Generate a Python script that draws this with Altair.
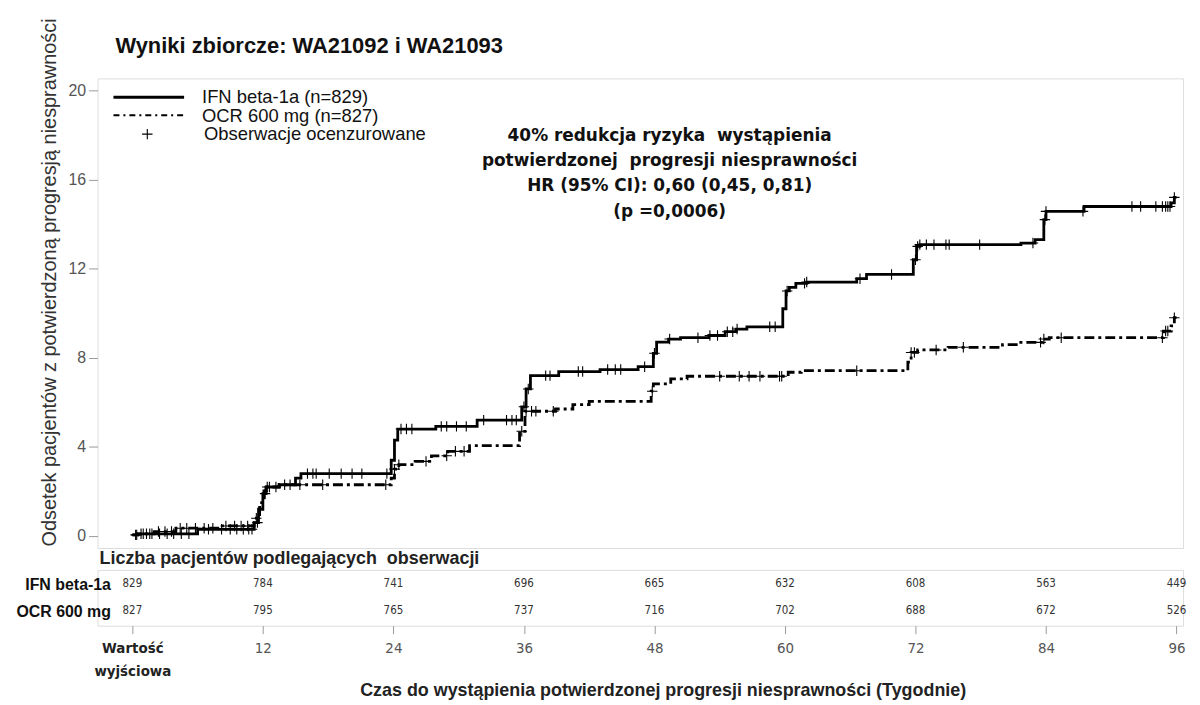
import altair as alt
import numpy as np
import pandas as pd

# ---------------- data ----------------
groups = ["IFN beta-1a", "OCR 600 mg"]

ifn_t = [0, 0.5, 6.0, 11.2, 11.6, 12.0, 12.3, 13.5, 15.0, 15.5, 23.8, 24.1, 24.4,
         27.9, 31.7, 35.8, 36.2, 36.6, 39.2, 43.0, 46.5, 47.9, 48.2, 49.3, 50.4,
         53.0, 54.5, 55.5, 56.5, 59.8, 60.1, 60.4, 61.0, 62.0, 66.6, 67.5, 71.8,
         72.1, 72.4, 81.7, 83.0, 83.8, 84.0, 87.5, 95.5, 95.8, 96.0]
ifn_v = [0.05, 0.1, 0.3, 0.6, 1.2, 1.9, 2.2, 2.3, 2.6, 2.8, 3.4, 4.3, 4.8,
         4.92, 5.2, 5.8, 6.6, 7.2, 7.38, 7.47, 7.6, 8.2, 8.7, 8.84, 8.9,
         9.0, 9.17, 9.29, 9.39, 10.2, 11.0, 11.16, 11.34, 11.4, 11.55, 11.74, 12.4,
         13.0, 13.08, 13.15, 13.3, 14.2, 14.57, 14.79, 14.95, 15.2, 15.2]

ocr_t = [0, 0.5, 2.0, 4.0, 8.0, 11.2, 11.7, 12.1, 13.5, 23.8, 24.1, 24.5, 26.0,
         27.5, 29.0, 31.0, 35.6, 36.1, 38.9, 40.5, 42.0, 47.7, 47.9, 49.5, 51.0,
         60.3, 61.5, 71.3, 71.6, 72.2, 75.0, 80.0, 81.5, 83.7, 84.3, 94.8, 95.5,
         95.8, 96.0]
ocr_v = [0.05, 0.1, 0.2, 0.35, 0.45, 0.8, 1.5, 2.2, 2.3, 2.6, 3.0, 3.2, 3.35,
         3.6, 3.8, 4.06, 4.7, 5.6, 5.7, 5.9, 6.04, 6.5, 6.83, 7.05, 7.17,
         7.35, 7.42, 7.8, 8.24, 8.35, 8.47, 8.59, 8.69, 8.84, 8.9, 9.2, 9.43,
         9.8, 9.8]

ifn_cens = [0.3, 0.8, 1.3, 1.8, 2.5, 3.2, 3.8, 4.5, 5.2, 7.0, 8.2, 9.0, 9.6, 10.2,
            10.7, 11.0, 11.5, 12.2, 12.6, 13.2, 14.0, 16.1, 16.6, 16.9, 18.1, 19.2,
            20.2, 21.1, 23.4, 24.7, 25.2, 25.7, 28.4, 28.9, 29.8, 30.7, 32.3, 34.4,
            34.9, 35.3, 36.0, 36.4, 38.0, 38.4, 41.0, 41.4, 43.7, 44.4, 44.9, 47.1,
            48.0, 49.4, 52.0, 53.1, 53.8, 54.7, 55.2, 55.6, 58.6, 59.1, 60.2, 61.8,
            62.0, 66.9, 69.8, 72.0, 72.2, 72.4, 73.0, 73.7, 74.8, 75.1, 77.9, 82.8,
            83.9, 84.0, 87.4, 91.9, 92.7, 94.1, 94.7, 95.0, 95.2, 95.4, 95.8]
ocr_cens = [0.4, 1.0, 1.6, 2.4, 3.0, 3.6, 4.4, 5.0, 5.8, 6.6, 7.4, 8.6, 9.4, 10.0,
            10.6, 11.4, 12.4, 14.5, 15.4, 17.5, 23.3, 24.1, 24.5, 27.0, 28.9, 29.7,
            30.5, 35.8, 36.2, 36.7, 37.1, 38.7, 47.8, 54.0, 55.8, 56.7, 57.7, 59.5,
            59.7, 66.6, 71.6, 71.9, 73.9, 76.4, 83.5, 83.8, 85.4, 94.7, 95.0, 95.2,
            95.8]

table_weeks = [0, 12, 24, 36, 48, 60, 72, 84, 96]
ifn_at_risk = [829, 784, 741, 696, 665, 632, 608, 563, 449]
ocr_at_risk = [827, 795, 765, 737, 716, 702, 688, 672, 526]

title_text = "Wyniki zbiorcze: WA21092 i WA21093"
legend_labels = ["IFN beta-1a (n=829)", "OCR 600 mg (n=827)", "Obserwacje ocenzurowane"]
annotation = ["40% redukcja ryzyka\u00a0 wystąpienia",
              "potwierdzonej\u00a0 progresji niesprawności",
              "HR (95% CI): 0,60 (0,45, 0,81)",
              "(p =0,0006)"]

# ---------------- tables ----------------
curves = pd.concat([
    pd.DataFrame({"week": ifn_t, "pct": ifn_v, "grp": groups[0]}),
    pd.DataFrame({"week": ocr_t, "pct": ocr_v, "grp": groups[1]}),
])


def step_at(ts, vs, t):
    i = int(np.searchsorted(np.array(ts), t, side="right")) - 1
    return vs[max(i, 0)]


cens = pd.concat([
    pd.DataFrame({"week": ifn_cens, "pct": [step_at(ifn_t, ifn_v, t) for t in ifn_cens], "grp": groups[0]}),
    pd.DataFrame({"week": ocr_cens, "pct": [step_at(ocr_t, ocr_v, t) for t in ocr_cens], "grp": groups[1]}),
])

risk = pd.concat([
    pd.DataFrame({"week": table_weeks, "n": ifn_at_risk, "grp": groups[0]}),
    pd.DataFrame({"week": table_weeks, "n": ocr_at_risk, "grp": groups[1]}),
])

# ---------------- styles ----------------
W = 1091
H = 472
FONT = "Liberation Sans, Arial, sans-serif"
NARROW = "Liberation Sans Narrow, Arial Narrow, DejaVu Sans Condensed, Liberation Sans, sans-serif"
PLUS = "M-1,0H1M0,-1V1"
DASH = [10, 4, 3, 4]

x_scale = alt.Scale(domain=[-3.2, 96.6], nice=False, zero=False)
y_scale = alt.Scale(domain=[-0.54, 20.54], nice=False, zero=False)
dash_scale = alt.Scale(domain=groups, range=[[1, 0], DASH])

lines = alt.Chart(curves).mark_line(interpolate="step-after", color="black", strokeWidth=2.8).encode(
    x=alt.X("week:Q", scale=x_scale, axis=None),
    y=alt.Y("pct:Q", scale=y_scale,
            axis=alt.Axis(values=[0, 4, 8, 12, 16, 20], grid=False, domain=False,
                          tickSize=9, tickColor="#9a9a9a", labelPadding=3,
                          labelFontSize=16, labelColor="#555555", labelFont=FONT,
                          title="Odsetek pacjentów z potwierdzoną progresją niesprawności",
                          titleFontSize=20, titleFontWeight="normal", titleColor="#333333",
                          titleFont=FONT, titleAngle=270, titleAlign="left",
                          titleBaseline="alphabetic", titleX=-42, titleY=470)),
    strokeDash=alt.StrokeDash("grp:N", scale=dash_scale, legend=None),
    detail="grp:N",
)

marks = alt.Chart(cens).mark_point(shape=PLUS, filled=False, color="black",
                                   strokeWidth=1.1, size=110, opacity=1).encode(
    x=alt.X("week:Q", scale=x_scale),
    y=alt.Y("pct:Q", scale=y_scale),
)

one = pd.DataFrame({"k": [0]})
title_mark = alt.Chart(one).mark_text(text=title_text, align="left", baseline="alphabetic",
                                      fontSize=22, fontWeight="bold", font=FONT,
                                      color="#111111").encode(
    x=alt.value(18), y=alt.value(-26))
leg_solid = alt.Chart(one).mark_rule(color="black", strokeWidth=3).encode(
    x=alt.value(16), x2=alt.value(87), y=alt.value(19))
leg_dash = alt.Chart(one).mark_rule(color="black", strokeWidth=2, strokeDash=[6, 4, 2, 4]).encode(
    x=alt.value(16), x2=alt.value(87), y=alt.value(37))
leg_plus = alt.Chart(one).mark_point(shape=PLUS, filled=False, color="black", strokeWidth=1.1,
                                     size=110, opacity=1).encode(
    x=alt.value(50), y=alt.value(56))
leg_txt = [
    alt.Chart(one).mark_text(text=lab, align="left", baseline="middle", fontSize=18.5,
                             font=FONT, color="#111111").encode(
        x=alt.value(105 + (2 if i == 2 else 0)), y=alt.value(19 + 18.6 * i))
    for i, lab in enumerate(legend_labels)
]
annot = alt.Chart(one).mark_text(text=annotation, align="center", baseline="top", fontSize=17,
                                 fontWeight="bold", font="DejaVu Sans, sans-serif",
                                 lineHeight=25.3, color="#111111").encode(
    x=alt.value(575), y=alt.value(50))

top = alt.layer(lines, marks, title_mark, leg_solid, leg_dash, leg_plus, *leg_txt, annot).properties(
    width=W, height=H,
)

bottom = alt.Chart(risk).mark_text(fontSize=11.5, font=NARROW, color="#333333").encode(
    x=alt.X("week:Q", scale=x_scale,
            axis=alt.Axis(values=table_weeks, grid=False, domain=False, tickSize=8,
                          tickColor="#9a9a9a", labelPadding=7, labelFontSize=15,
                          labelFont=NARROW, labelBaseline="top", labelLineHeight=23,
                          labelExpr="datum.value == 0 ? ['Wartość', 'wyjściowa'] : datum.label",
                          labelFontWeight={"condition": {"test": "datum.value == 0", "value": "bold"},
                                           "value": "normal"},
                          labelColor={"condition": {"test": "datum.value == 0", "value": "#222222"},
                                      "value": "#555555"},
                          title="Czas do wystąpienia potwierdzonej progresji niesprawności (Tygodnie)",
                          titleFontSize=18, titleFontWeight="bold", titleFont=FONT,
                          titleColor="#222222", titlePadding=3, titleX=568)),
    y=alt.Y("grp:N", sort=groups, scale=alt.Scale(padding=0.55),
            axis=alt.Axis(title=None, ticks=False, domain=False, labelFontSize=16,
                          labelFontWeight="bold", labelColor="#111111", labelFont=FONT,
                          labelPadding=-13)),
    text="n:Q",
).properties(
    width=W, height=56,
    title=alt.TitleParams("Liczba pacjentów podlegających\u00a0 obserwacji", anchor="start",
                          frame="group", dx=2, fontSize=18, fontWeight="bold", font=FONT,
                          color="#222222", offset=2),
)

chart = alt.vconcat(top, bottom, spacing=0).properties(
    padding={"left": 7, "top": 7, "right": 5, "bottom": 2}
).configure_view(stroke="#c4c4c4", strokeWidth=1.6).configure(font=FONT)

chart.save("out.html", embed_options={"renderer": "svg", "actions": False})
